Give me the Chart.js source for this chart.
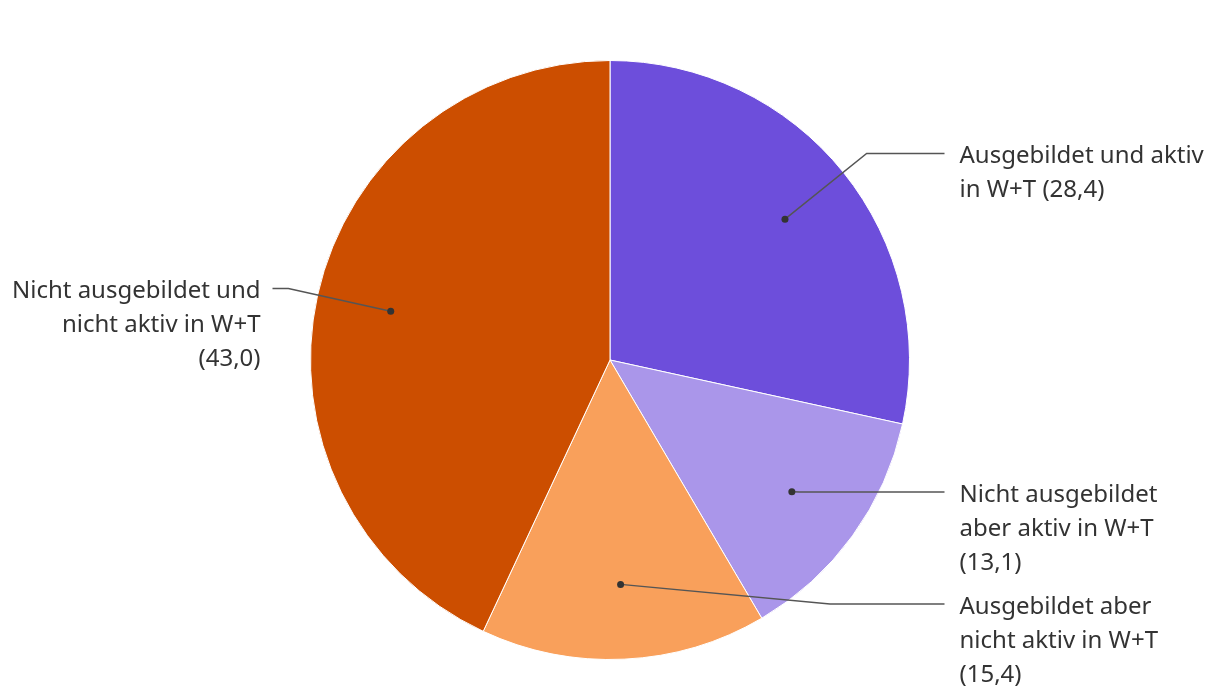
<!DOCTYPE html>
<html>
<head>
<meta charset="utf-8">
<script src="https://cdn.jsdelivr.net/npm/chart.js@4"></script>
<style>
  html, body { margin: 0; padding: 0; background: #fff; }
  #wrap { width: 1220px; height: 700px; }
</style>
</head>
<body>
<div id="wrap"><canvas id="pieChart"></canvas></div>
<script>
// data
const categories = [
    'Ausgebildet und aktiv in W+T',
    'Nicht ausgebildet aber aktiv in W+T',
    'Ausgebildet aber nicht aktiv in W+T',
    'Nicht ausgebildet und nicht aktiv in W+T'
];
const values = [28.4, 13.1, 15.4, 43.0];
const colors = ['#6d4edb', '#aa96ea', '#f9a05b', '#cc4e00'];

// label placement tweaks (null = follow the slice angle)
const labelShift = [null, { y: 492, elbowX: 800 }, { y: 604, elbowX: 830 }, null];

function fmt(v) {
    return v.toFixed(1).replace('.', ',');
}

function wrap(ctx, text, maxW) {
    const words = text.split(' ');
    const lines = [];
    let line = '';
    words.forEach(w => {
        const test = line ? line + ' ' + w : w;
        if (ctx.measureText(test).width > maxW && line) {
            lines.push(line);
            line = w;
        } else {
            line = test;
        }
    });
    lines.push(line);
    return lines;
}

const calloutPlugin = {
    id: 'callouts',
    afterDatasetsDraw(chart) {
        const ctx = chart.ctx;
        const meta = chart.getDatasetMeta(0);
        ctx.save();
        ctx.font = '24px "Noto Sans"';
        meta.data.forEach((arc, i) => {
            const p = arc.getProps(['x', 'y', 'startAngle', 'endAngle', 'outerRadius'], true);
            const mid = (p.startAngle + p.endAngle) / 2;
            const r = p.outerRadius;
            const dx = p.x + Math.cos(mid) * r * 0.75;
            const dy = p.y + Math.sin(mid) * r * 0.75;
            const right = Math.cos(mid) >= 0;
            let ex = p.x + Math.cos(mid) * r * 1.1;
            let ey = p.y + Math.sin(mid) * r * 1.1;
            if (labelShift[i]) {
                ex = labelShift[i].elbowX;
                ey = labelShift[i].y;
            }
            const endX = right ? p.x + r + 35 : p.x - r - 38;
            const textX = right ? p.x + r + 50 : p.x - r - 50;

            ctx.strokeStyle = '#555';
            ctx.lineWidth = 1.5;
            ctx.beginPath();
            ctx.moveTo(dx, dy);
            ctx.lineTo(ex, ey);
            ctx.lineTo(endX, ey);
            ctx.stroke();

            ctx.fillStyle = '#333';
            ctx.beginPath();
            ctx.arc(dx, dy, 3.5, 0, Math.PI * 2);
            ctx.fill();

            const lines = wrap(ctx, categories[i] + ' (' + fmt(values[i]) + ')', 251);
            ctx.textAlign = right ? 'left' : 'right';
            ctx.textBaseline = 'middle';
            lines.forEach((ln, k) => {
                ctx.fillText(ln, textX, ey + 3 + k * 34);
            });
        });
        ctx.restore();
    }
};

new Chart(document.getElementById('pieChart'), {
    type: 'pie',
    data: {
        labels: categories,
        datasets: [{
            data: values,
            backgroundColor: colors,
            borderColor: '#ffffff',
            borderWidth: 1
        }]
    },
    options: {
        responsive: true,
        maintainAspectRatio: false,
        animation: false,
        layout: { padding: { top: 60, bottom: 40, left: 310, right: 310 } },
        plugins: {
            legend: { display: false },
            tooltip: { enabled: false }
        }
    },
    plugins: [calloutPlugin]
});
</script>
</body>
</html>
